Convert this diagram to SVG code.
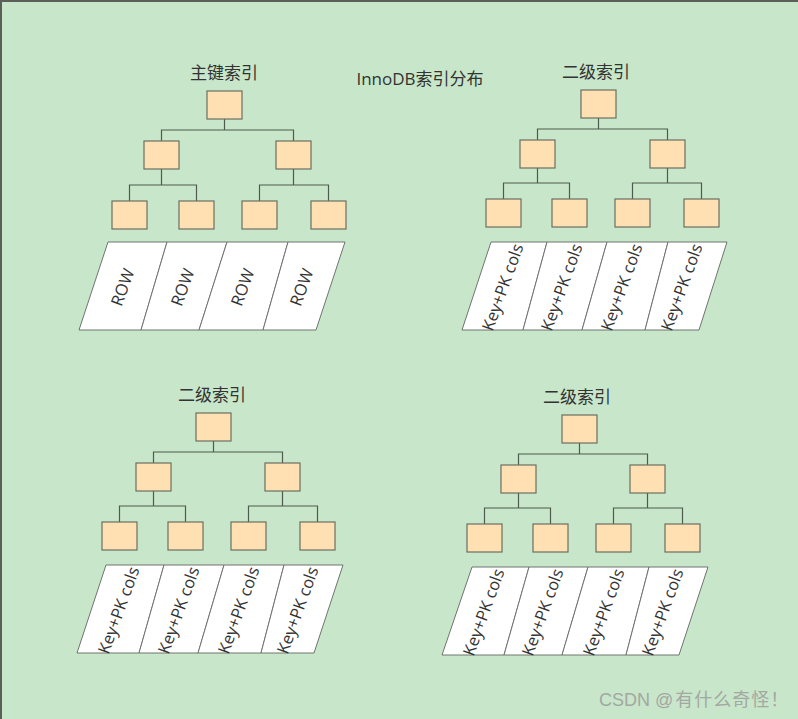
<svg xmlns="http://www.w3.org/2000/svg" width="798" height="719" viewBox="0 0 798 719">
<style>
.bg{fill:#c8e6c9}
.border{stroke:#5a5f5a;stroke-width:2;fill:none}
.node{fill:#ffe0b2;stroke:#6b6f62;stroke-width:1.2}
.conn{fill:none;stroke:#4f5a4f;stroke-width:1.2}
.cell{fill:#ffffff;stroke:#6f746f;stroke-width:1}
.title{font-family:"Open Sans","Noto Sans CJK SC",sans-serif;font-size:17px;fill:#333333;text-anchor:middle}
.lbl{font-family:"Open Sans","Noto Sans CJK SC",sans-serif;font-size:16.5px;fill:#333333;text-anchor:middle;dominant-baseline:central}
.wm{font-family:"Liberation Sans","Noto Sans CJK SC",sans-serif;font-size:18px;fill:#a3a8a3}
.wmcjk{font-family:"Noto Sans CJK SC",sans-serif}
</style>
<rect class="bg" x="0" y="0" width="798" height="719"/>
<path class="border" d="M0,1 H798 M1,0 V719"/>

<text class="title" x="420" y="85">InnoDB索引分布</text>

<g id="connectors">
  <!-- top-left -->
  <path class="conn" d="M224.5,119 V130 M161.5,141 V130 H293.5 V141 M161.5,169 V185 M129.5,201 V185 H196.5 V201 M293.5,169 V185 M259.5,201 V185 H328.5 V201"/>
  <!-- top-right -->
  <path class="conn" d="M598.5,118 V129 M537.5,140 V129 H667.5 V140 M537.5,168 V183 M503.5,199 V183 H569.5 V199 M667.5,168 V183 M632.5,199 V183 H701.5 V199"/>
  <!-- bottom-left -->
  <path class="conn" d="M213.5,441 V452 M153.5,463 V452 H282.5 V463 M153.5,491 V506 M119.5,522 V506 H185.5 V522 M282.5,491 V506 M248.5,522 V506 H317.5 V522"/>
  <!-- bottom-right -->
  <path class="conn" d="M579.5,443 V454 M518.5,465 V454 H647.5 V465 M518.5,493 V508 M484.5,524 V508 H550.5 V524 M647.5,493 V508 M613.5,524 V508 H682.5 V524"/>
</g>

<!-- Top-left: primary index -->
<g id="tl-title"><text class="title" x="224" y="79">主键索引</text></g>
<g id="tl-root"><rect class="node" x="207" y="91" width="35" height="28"/></g>
<g id="tl-l2a"><rect class="node" x="144" y="141" width="35" height="28"/></g>
<g id="tl-l2b"><rect class="node" x="276" y="141" width="35" height="28"/></g>
<g id="tl-leaf1"><rect class="node" x="112" y="201" width="35" height="28"/></g>
<g id="tl-leaf2"><rect class="node" x="179" y="201" width="35" height="28"/></g>
<g id="tl-leaf3"><rect class="node" x="242" y="201" width="35" height="28"/></g>
<g id="tl-leaf4"><rect class="node" x="311" y="201" width="35" height="28"/></g>
<g id="tl-rows">
  <polygon class="cell" points="108,242 167,242 141,330 79,330"/>
  <polygon class="cell" points="167,242 227,242 199,330 141,330"/>
  <polygon class="cell" points="227,242 288,242 263,330 199,330"/>
  <polygon class="cell" points="288,242 345,242 316,330 263,330"/>
  <text class="lbl" transform="translate(122,287) rotate(-70)">ROW</text>
  <text class="lbl" transform="translate(182,287) rotate(-70)">ROW</text>
  <text class="lbl" transform="translate(242,287) rotate(-70)">ROW</text>
  <text class="lbl" transform="translate(301,287) rotate(-70)">ROW</text>
</g>

<!-- Top-right: secondary index -->
<g id="tr-title"><text class="title" x="596" y="78">二级索引</text></g>
<g id="tr-root"><rect class="node" x="581" y="90" width="35" height="28"/></g>
<g id="tr-l2a"><rect class="node" x="520" y="140" width="35" height="28"/></g>
<g id="tr-l2b"><rect class="node" x="650" y="140" width="35" height="28"/></g>
<g id="tr-leaf1"><rect class="node" x="486" y="199" width="35" height="28"/></g>
<g id="tr-leaf2"><rect class="node" x="552" y="199" width="35" height="28"/></g>
<g id="tr-leaf3"><rect class="node" x="615" y="199" width="35" height="28"/></g>
<g id="tr-leaf4"><rect class="node" x="684" y="199" width="35" height="28"/></g>
<g id="tr-rows">
  <polygon class="cell" points="491,242 547,242 523,330 462,330"/>
  <polygon class="cell" points="547,242 607,242 582,330 523,330"/>
  <polygon class="cell" points="607,242 668,242 645,330 582,330"/>
  <polygon class="cell" points="668,242 727,242 699,330 645,330"/>
  <text class="lbl" transform="translate(502,287) rotate(-70)">Key+PK cols</text>
  <text class="lbl" transform="translate(561,287) rotate(-70)">Key+PK cols</text>
  <text class="lbl" transform="translate(621,287) rotate(-70)">Key+PK cols</text>
  <text class="lbl" transform="translate(681,287) rotate(-70)">Key+PK cols</text>
</g>

<!-- Bottom-left: secondary index -->
<g id="bl-title"><text class="title" x="212" y="401">二级索引</text></g>
<g id="bl-root"><rect class="node" x="196" y="413" width="35" height="28"/></g>
<g id="bl-l2a"><rect class="node" x="136" y="463" width="35" height="28"/></g>
<g id="bl-l2b"><rect class="node" x="265" y="463" width="35" height="28"/></g>
<g id="bl-leaf1"><rect class="node" x="102" y="522" width="35" height="28"/></g>
<g id="bl-leaf2"><rect class="node" x="168" y="522" width="35" height="28"/></g>
<g id="bl-leaf3"><rect class="node" x="231" y="522" width="35" height="28"/></g>
<g id="bl-leaf4"><rect class="node" x="300" y="522" width="35" height="28"/></g>
<g id="bl-rows">
  <polygon class="cell" points="106,565 164,565 139,653 77,653"/>
  <polygon class="cell" points="164,565 224,565 198,653 139,653"/>
  <polygon class="cell" points="224,565 284,565 261,653 198,653"/>
  <polygon class="cell" points="284,565 343,565 314,653 261,653"/>
  <text class="lbl" transform="translate(118,610) rotate(-70)">Key+PK cols</text>
  <text class="lbl" transform="translate(178,610) rotate(-70)">Key+PK cols</text>
  <text class="lbl" transform="translate(238,610) rotate(-70)">Key+PK cols</text>
  <text class="lbl" transform="translate(297,610) rotate(-70)">Key+PK cols</text>
</g>

<!-- Bottom-right: secondary index -->
<g id="br-title"><text class="title" x="577" y="403">二级索引</text></g>
<g id="br-root"><rect class="node" x="562" y="415" width="35" height="28"/></g>
<g id="br-l2a"><rect class="node" x="501" y="465" width="35" height="28"/></g>
<g id="br-l2b"><rect class="node" x="630" y="465" width="35" height="28"/></g>
<g id="br-leaf1"><rect class="node" x="467" y="524" width="35" height="28"/></g>
<g id="br-leaf2"><rect class="node" x="533" y="524" width="35" height="28"/></g>
<g id="br-leaf3"><rect class="node" x="596" y="524" width="35" height="28"/></g>
<g id="br-leaf4"><rect class="node" x="665" y="524" width="35" height="28"/></g>
<g id="br-rows">
  <polygon class="cell" points="472,567 529,567 504,655 442,655"/>
  <polygon class="cell" points="529,567 588,567 562,655 504,655"/>
  <polygon class="cell" points="588,567 649,567 626,655 562,655"/>
  <polygon class="cell" points="649,567 708,567 679,655 626,655"/>
  <text class="lbl" transform="translate(483,612) rotate(-70)">Key+PK cols</text>
  <text class="lbl" transform="translate(542,612) rotate(-70)">Key+PK cols</text>
  <text class="lbl" transform="translate(603,612) rotate(-70)">Key+PK cols</text>
  <text class="lbl" transform="translate(662,612) rotate(-70)">Key+PK cols</text>
</g>

<text class="wm" x="599" y="706">CSDN @<tspan class="wmcjk" dx="2" letter-spacing="1">有什么奇怪！</tspan></text>
</svg>
